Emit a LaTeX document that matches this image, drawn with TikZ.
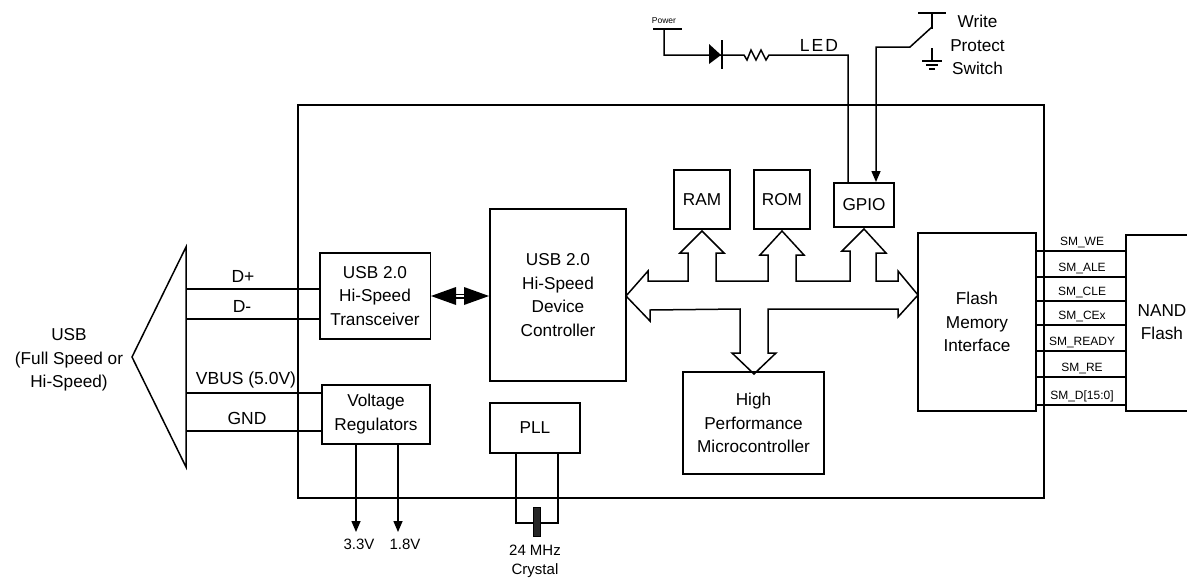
\documentclass[tikz,border=0pt]{standalone}
\usepackage{fontspec}
\setmainfont{Liberation Sans}
\usetikzlibrary{arrows.meta}
\tikzset{
  blockbox/.style={draw,line width=1.5pt,inner sep=0pt,align=center,font=\fontsize{17.2}{23.5}\selectfont},
  wire/.style={line width=1.5pt},
  sigarrow/.style={line width=1.5pt,-{Triangle[length=11pt,width=9pt]}},
  siglabel/.style={inner sep=0pt,font=\fontsize{12}{14}\selectfont},
  wirelabel/.style={inner sep=0pt,font=\fontsize{17.5}{20}\selectfont},
  smalllabel/.style={inner sep=0pt,align=center,font=\fontsize{15}{19}\selectfont},
}
\begin{document}
\begin{tikzpicture}[x=1pt,y=-1pt]
\useasboundingbox (0,0) rectangle (1187,579);
% chip outline
\draw[wire] (298,105) rectangle (1044,498);
% blocks
\node[blockbox,minimum width=110.5pt,minimum height=86pt] (transceiver) at (375,296) {USB 2.0\\Hi-Speed\\Transceiver};
\node[blockbox,minimum width=108pt,minimum height=59pt] (regulators) at (376,414.5) {\raisebox{-1.5pt}{Voltage}\\\raisebox{-2pt}{Regulators}};
\node[blockbox,minimum width=136pt,minimum height=172pt] (controller) at (558,295) {\raisebox{-1pt}{USB 2.0}\\\raisebox{-1pt}{Hi-Speed}\\\raisebox{-1pt}{Device}\\\raisebox{-1pt}{Controller}};
\node[blockbox,minimum width=90pt,minimum height=50pt] (pll) at (535,428) {PLL};
\node[blockbox,minimum width=56pt,minimum height=59pt] (ram) at (702,199.5) {RAM};
\node[blockbox,minimum width=56pt,minimum height=59pt] (rom) at (782,199.5) {ROM};
\node[blockbox,minimum width=60pt,minimum height=44pt] (gpio) at (864,205) {GPIO};
\node[blockbox,minimum width=118pt,minimum height=178pt] (flashif) at (977,322) {Flash\\Memory\\Interface};
\node[blockbox,minimum width=141pt,minimum height=102pt] (mcu) at (753.5,423) {High\\Performance\\Microcontroller};
% internal bus
\draw[wire,line join=miter] (626,296) -- (648,271) -- (648,281) -- (688,281) -- (688,253) -- (680,253)
  -- (702,231) -- (724,253) -- (716,253) -- (716,281) -- (768,281) -- (768,255) -- (760,255)
  -- (782,231) -- (804,255) -- (796,255) -- (796,281) -- (850,281) -- (850,251) -- (842,251)
  -- (864,229) -- (886,253) -- (876,253) -- (876,281) -- (898,281) -- (898,271)
  -- (918,295) -- (898,317) -- (898,309) -- (768,309) -- (768,353) -- (776,353)
  -- (754,374) -- (732,353) -- (740,353) -- (740,309) -- (650,310) -- (650,321) -- cycle;
% transceiver to controller
\draw[line width=5pt] (456,296) -- (465,296);
\draw[line width=1.6pt,white] (456,296) -- (465,296);
\fill (431,296) -- (456,287) -- (456,305) -- cycle;
\fill (489,296) -- (464,287) -- (464,305) -- cycle;
% usb connector
\coordinate (usbtop) at (186,247);
\coordinate (usbbot) at (186,467);
\draw[wire] (usbtop) -- (132,357) -- (usbbot) -- cycle;
\node[blockbox,draw=none] (usb) at (69,360) {USB\\(Full Speed or\\Hi-Speed)};
\foreach \y/\t/\ly/\lx/\n in {289/D+/276/243/dp,319/D-/306/242/dm} {
  \coordinate (\n) at (186,\y);
  \draw[wire] (\n) -- (transceiver.west |- \n);
  \node[wirelabel] (lab\n) at (\lx,\ly) {\t};
}
\foreach \y/\t/\ly/\lx/\n in {393/VBUS (5.0V)/380/246/vbus,431/GND/418/247/gnd} {
  \coordinate (\n) at (186,\y);
  \draw[wire] (\n) -- (regulators.west |- \n);
  \node[wirelabel] (lab\n) at (\lx,\ly) {\t};
}
% regulator outputs
\coordinate (vout) at (356,532);
\coordinate (wout) at (398,532);
\draw[sigarrow] (vout |- regulators.south) -- (vout);
\draw[sigarrow] (wout |- regulators.south) -- (wout);
\node[smalllabel] (lvout) at (359,544) {3.3V};
\node[smalllabel] (lwout) at (405,544) {1.8V};
% crystal
\coordinate (xtalL) at (516,523);
\coordinate (xtalR) at (558,523);
\draw[wire] (xtalL |- pll.south) -- (xtalL) -- (xtalR) -- (xtalR |- pll.south);
\node[draw,line width=1pt,fill=black!85,minimum width=7pt,minimum height=29pt,inner sep=0pt] (xtal) at (537,522) {};
\node[smalllabel] (lxtal) at (535,561.5) {24 MHz\\Crystal};
% nand flash
\coordinate (nandtop) at (1187,235);
\coordinate (nandbot) at (1187,411);
\draw[wire] (nandtop) -- (1126,235) -- (1126,411) -- (nandbot);
\node[blockbox,draw=none] (nand) at (1162,322) {NAND\\Flash};
\foreach \y/\t/\ly in {251/SM\_WE/242,277/SM\_ALE/268,301/SM\_CLE/292,325/SM\_CEx/316,351/SM\_READY/342,377/SM\_RE/368,405/SM\_D[15:0]/396} {
  \draw[wire] (flashif.east |- 0,\y) -- (1126,\y);
  \node[siglabel] at (1082,\ly) {\t};
}
% led
\node[inner sep=0pt,font=\fontsize{8.5}{10}\selectfont] (power) at (664,21) {Power};
\coordinate (pwr) at (664,29);
\draw[wire] (653,29) -- (682,29);
\draw[wire] (pwr) |- (744,55) -- (747,60) -- (751,50) -- (756,60) -- (761,50) -- (766,60) -- (769,55) -- (848,55) -- (848,183);
\fill (709,44) -- (721,55) -- (709,64) -- cycle;
\draw[wire] (722,40) -- (722,69);
\node[wirelabel] (led) at (819,45) {L\kern2pt E\kern2pt D};
% write protect
\draw[wire] (918,13) -- (946,13);
\draw[wire] (932,13) -- (932,29);
\coordinate (swout) at (876,182);
\draw[sigarrow] (932,27) -- (910,47) -- (876,47) -- (swout);
\draw[wire] (932,48) -- (932,61);
\draw[wire] (922,61) -- (942,61);
\draw[wire] (926,65) -- (938,65);
\draw[wire] (929,69) -- (935,69);
\node[blockbox,draw=none] (wps) at (977.5,45) {Write\\Protect\\Switch};
\end{tikzpicture}
\end{document}
